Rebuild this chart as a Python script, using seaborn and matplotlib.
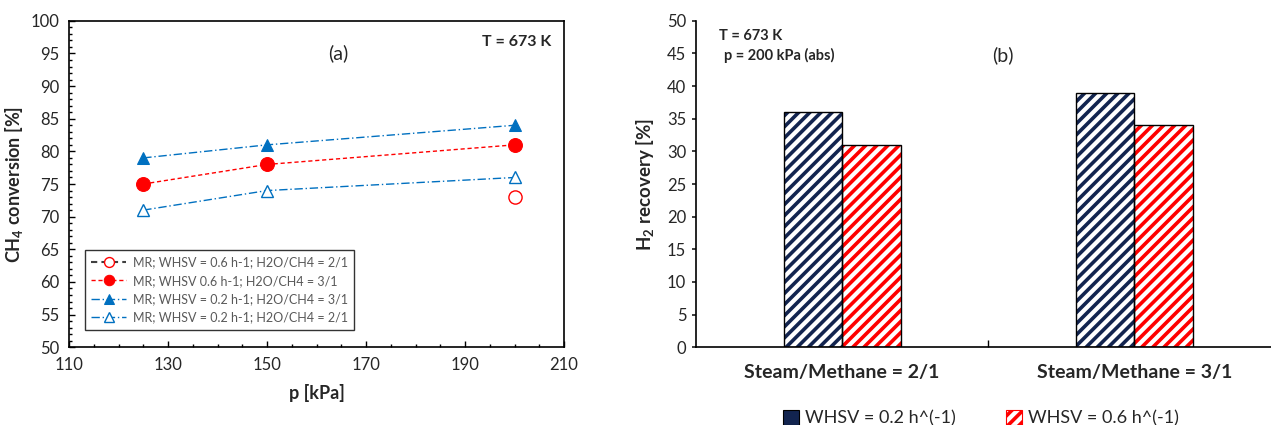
import matplotlib
matplotlib.use("Agg")
import matplotlib.pyplot as plt
from matplotlib.ticker import MultipleLocator, FixedLocator
from matplotlib.patches import Patch
import seaborn as sns
import pandas as pd

# ---------------- data ----------------
pressure = [125, 150, 200]
conv_06_21 = [None, None, 73]          # only one point measured (200 kPa)
conv_06_31 = [75, 78, 81]
conv_02_31 = [79, 81, 84]
conv_02_21 = [71, 74, 76]

labels_a = ["MR; WHSV = 0.6 h-1; H2O/CH4 = 2/1",
            "MR; WHSV 0.6 h-1; H2O/CH4 = 3/1",
            "MR; WHSV = 0.2 h-1; H2O/CH4 = 3/1",
            "MR; WHSV = 0.2 h-1; H2O/CH4 = 2/1"]
x_ticks_a = [110, 130, 150, 170, 190, 210]

categories = ["Steam/Methane = 2/1", "Steam/Methane = 3/1"]
rec_whsv_02 = [36, 39]
rec_whsv_06 = [31, 34]
whsv_labels = ["WHSV = 0.2 h^(-1)", "WHSV = 0.6 h^(-1)"]

# ---------------- style ----------------
sns.set_theme(style="white")
plt.rcParams['font.family'] = ['Lato', 'DejaVu Sans']
plt.rcParams['hatch.linewidth'] = 2.6
plt.rcParams['mathtext.default'] = 'regular'

BLUE = "#0070C0"
RED = "#FF0000"
NAVY = "#12244F"

fig = plt.figure(figsize=(12.71, 4.25), dpi=100)
ax1 = fig.add_axes([0.0543, 0.183, 0.3895, 0.768])
ax2 = fig.add_axes([0.5476, 0.183, 0.4600, 0.768])

# ---------------- panel (a) ----------------
series = [
    (conv_06_21, dict(color="#404040", linestyle=(0, (3, 2)), marker="o", markersize=9.5,
                      markerfacecolor="white", markeredgecolor=RED, markeredgewidth=1.0)),
    (conv_06_31, dict(color=RED, linestyle=(0, (3, 2)), linewidth=1.0, marker="o", markersize=10,
                      markerfacecolor=RED, markeredgecolor=RED)),
    (conv_02_31, dict(color=BLUE, linestyle=(0, (6, 2, 1, 2)), linewidth=1.0, marker="^", markersize=9,
                      markerfacecolor=BLUE, markeredgecolor=BLUE)),
    (conv_02_21, dict(color=BLUE, linestyle=(0, (6, 2, 1, 2)), linewidth=1.0, marker="^", markersize=9,
                      markerfacecolor="white", markeredgecolor=BLUE, markeredgewidth=1.0)),
]
for (vals, kw), lab in zip(series, labels_a):
    df = pd.DataFrame({"p": pressure, "v": vals}).dropna()
    sns.lineplot(data=df, x="p", y="v", ax=ax1, label=lab, **kw)

ax1.set_xlim(110, 210)
ax1.set_ylim(50, 100)
ax1.xaxis.set_major_locator(FixedLocator(x_ticks_a))
ax1.xaxis.set_minor_locator(MultipleLocator(5))
ax1.yaxis.set_major_locator(MultipleLocator(5))
ax1.yaxis.set_minor_locator(MultipleLocator(1))
ax1.tick_params(which="both", direction="in", length=4, width=1, color="black",
                left=True, bottom=True, labelsize=12, pad=7)
ax1.tick_params(which="minor", length=2.5)
for s in ax1.spines.values():
    s.set_color("black")
    s.set_linewidth(1.2)
ax1.set_xlabel("p [kPa]", fontsize=13, fontweight="bold", labelpad=8)
ax1.set_ylabel("CH$_4$ conversion [%]", fontsize=13, fontweight="bold", labelpad=4)
ax1.text(164.3, 95.0, "(a)", fontsize=14, ha="center", va="center")
ax1.text(0.975, 0.935, "T = 673 K", transform=ax1.transAxes, fontsize=11.5,
         fontweight="bold", ha="right", va="center")
leg1 = ax1.legend(loc="lower left", bbox_to_anchor=(0.02, 0.035), fontsize=9,
                  frameon=True, fancybox=False, edgecolor="black", labelcolor="#595959",
                  handlelength=2.8, handletextpad=0.5, borderpad=0.5, labelspacing=0.5,
                  markerscale=0.75)
leg1.get_frame().set_linewidth(1.0)

# ---------------- panel (b) ----------------
dfb = pd.DataFrame({
    "cat": categories * 2,
    "val": rec_whsv_02 + rec_whsv_06,
    "whsv": [whsv_labels[0]] * 2 + [whsv_labels[1]] * 2,
})
sns.barplot(data=dfb, x="cat", y="val", hue="whsv", hue_order=whsv_labels,
            palette=[NAVY, RED], width=0.4, ax=ax2, legend=False)
hatched = list(ax2.patches)
for i, p in enumerate(hatched):
    col = NAVY if i < len(categories) else RED
    p.set_facecolor("white")
    p.set_edgecolor(col)
    p.set_hatch("///")
    p.set_linewidth(0)
# outlines
sns.barplot(data=dfb, x="cat", y="val", hue="whsv", hue_order=whsv_labels,
            width=0.4, ax=ax2, legend=False, fill=False,
            palette=["black", "black"], linewidth=1.0)
for p in ax2.patches[len(hatched):]:
    p.set_edgecolor("black")
    p.set_facecolor("none")

ax2.set_ylim(0, 50)
ax2.set_xlim(-0.5, 1.5)
ax2.yaxis.set_major_locator(MultipleLocator(5))
ax2.set_xticks([0.5], minor=True)
ax2.tick_params(axis="y", which="both", direction="out", length=3, left=True, labelsize=12, pad=4)
ax2.tick_params(axis="x", which="major", length=0, labelsize=14, pad=12)
ax2.tick_params(axis="x", which="minor", direction="in", length=5, bottom=True, color="black")
for lab in ax2.get_xticklabels():
    lab.set_fontweight("bold")
sns.despine(ax=ax2, top=True, right=True)
for s in ("left", "bottom"):
    ax2.spines[s].set_color("black")
    ax2.spines[s].set_linewidth(1.2)
ax2.set_xlabel("")
ax2.set_ylabel("H$_2$ recovery [%]", fontsize=13.5, fontweight="bold", labelpad=8)
ax2.text(0.04, 0.955, "T = 673 K", transform=ax2.transAxes, fontsize=10.5,
         fontweight="bold", ha="left", va="center")
ax2.text(0.048, 0.895, "p = 200 kPa (abs)", transform=ax2.transAxes, fontsize=10.5,
         fontweight="bold", ha="left", va="center")
ax2.text(0.525, 0.895, "(b)", transform=ax2.transAxes, fontsize=14, ha="center", va="center")

handles = [Patch(facecolor=NAVY, edgecolor="black", linewidth=0.8),
           Patch(facecolor="white", edgecolor=RED, hatch="///", linewidth=0.8)]
leg2 = ax2.legend(handles=handles, labels=whsv_labels, loc="lower center",
                  bbox_to_anchor=(0.487, -0.27), ncol=2, frameon=False, fontsize=13,
                  handlelength=0.9, handleheight=0.9, handletextpad=0.3, columnspacing=2.8,
                  borderpad=0.0)

fig.savefig("out.png", dpi=100)
